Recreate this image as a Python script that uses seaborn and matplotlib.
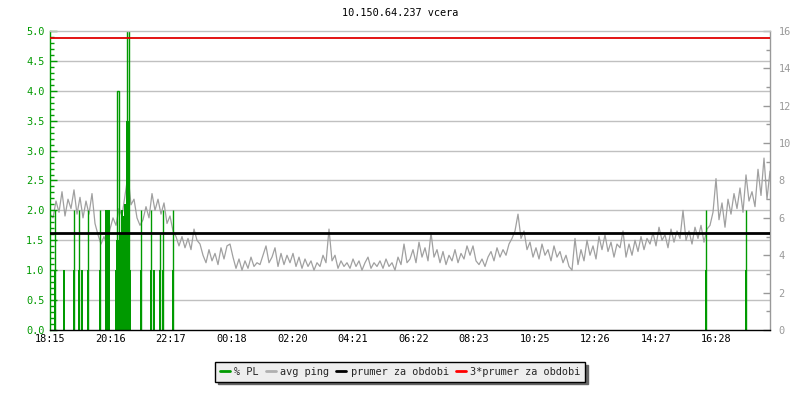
import numpy as np
import pandas as pd
import matplotlib
matplotlib.use("Agg")
import matplotlib.pyplot as plt
from matplotlib.lines import Line2D
from matplotlib.ticker import MultipleLocator, FixedLocator
import seaborn as sns

# ---------------- data ----------------
title = "10.150.64.237 vcera"
tick_labels = ["18:15", "20:16", "22:17", "00:18", "02:20", "04:21",
               "06:22", "08:23", "10:25", "12:26", "14:27", "16:28"]

# avg ping [ms], one sample every 6 minutes starting 18:15
avg_ping = [
    6.2, 6.0, 6.9, 6.3, 7.4, 6.1, 7.0, 6.5, 7.5, 6.2,
    7.1, 6.0, 6.9, 6.2, 7.3, 5.7, 5.1, 4.6, 5.0, 4.5,
    5.4, 6.0, 5.6, 6.5, 6.1, 7.2, 8.3, 6.7, 7.0, 6.0,
    5.6, 5.9, 6.6, 6.0, 7.3, 6.4, 7.0, 6.2, 6.8, 5.7,
    6.1, 5.3, 5.0, 4.5, 5.0, 4.4, 4.9, 4.3, 5.4, 4.8,
    4.6, 4.0, 3.6, 4.3, 3.7, 4.1, 3.5, 4.4, 3.8, 4.5,
    4.6, 3.9, 3.3, 3.8, 3.2, 3.7, 3.3, 3.9, 3.4, 3.6,
    3.5, 4.0, 4.5, 3.6, 3.9, 4.4, 3.4, 4.1, 3.5, 4.0,
    3.6, 4.1, 3.4, 3.9, 3.3, 3.8, 3.4, 3.7, 3.2, 3.6,
    3.4, 4.0, 3.6, 5.4, 3.7, 4.0, 3.3, 3.7, 3.4, 3.6,
    3.3, 3.8, 3.4, 3.7, 3.2, 3.6, 3.9, 3.3, 3.6, 3.4,
    3.7, 3.3, 3.8, 3.4, 3.6, 3.2, 3.9, 3.5, 4.6, 3.6,
    3.8, 4.3, 3.6, 4.7, 3.9, 4.4, 3.7, 5.2, 3.9, 4.3,
    3.6, 4.2, 3.5, 4.0, 3.7, 4.3, 3.6, 4.1, 3.8, 4.5,
    4.0, 4.5, 3.7, 3.5, 3.8, 3.4, 3.9, 4.2, 3.7, 4.4,
    3.9, 4.3, 4.0, 4.6, 4.9, 5.3, 6.2, 4.9, 5.3, 4.3,
    4.7, 3.9, 4.4, 3.8, 4.6, 4.0, 4.3, 3.7, 4.5, 3.9,
    4.2, 3.6, 4.0, 3.4, 3.2, 4.9, 3.5, 4.3, 3.7, 4.8,
    4.0, 4.5, 3.8, 5.0, 4.3, 5.1, 4.2, 4.7, 3.9, 4.6,
    4.4, 5.3, 3.9, 4.6, 4.0, 4.8, 4.2, 5.0, 4.3, 4.9,
    4.6, 5.2, 4.5, 5.5, 4.8, 5.1, 4.4, 5.4, 4.7, 5.3,
    4.9, 6.4, 4.8, 5.3, 4.6, 5.5, 4.9, 5.6, 4.7, 5.4,
    5.6, 6.3, 8.1, 5.9, 6.8, 5.5, 7.0, 6.2, 7.3, 6.5,
    7.6, 6.3, 8.3, 6.9, 7.4, 6.6, 8.6, 7.2, 9.2, 7.0,
    8.5,
]
ping_step_min = 6

# packet loss [%]: filled part
pl_time = [10, 28, 48, 58, 64, 76, 100, 112, 114, 116, 118,
           132, 134, 136, 138, 140, 142, 144, 146, 148, 150, 152, 154, 156, 158, 160,
           182, 202, 208, 220, 226, 246, 1312, 1392]
pl_value = [1.0, 1.0, 1.0, 1.0, 1.0, 1.0, 1.0, 2.0, 2.0, 2.0, 2.0,
            1.0, 1.5, 1.0, 1.5, 1.6, 1.0, 2.0, 1.9, 1.9, 2.1, 2.0, 3.5, 3.5, 3.5, 1.0,
            1.0, 1.0, 1.0, 1.0, 1.0, 1.0, 1.0, 1.0]
# packet loss peaks (thin lines)
pl_peak_time = [10, 48, 58, 76, 100, 182, 202, 220, 226, 246, 1312, 1392]
pl_peak_value = [2.0, 2.0, 2.0, 2.0, 2.0, 2.0, 2.0, 1.6, 2.0, 2.0, 2.0, 2.0]
# packet loss spikes (hollow)
pl_spike_time = [135, 156]
pl_spike_value = [4.0, 5.5]

prumer = 5.2          # ms
prumer3 = 15.6        # ms

# ---------------- style ----------------
GREEN = "#009a00"
GRAY = "#a0a0a0"
AXGRAY = "#999999"
GRID = "#c0c0c0"
FS = 7.4

sns.set_style("white")
plt.rcParams["font.family"] = ["DejaVu Sans Mono", "DejaVu Sans"]

fig = plt.figure(figsize=(8, 4), dpi=100)
ax = fig.add_axes([50 / 800, 70 / 400, 720 / 800, 299 / 400])
ax2 = ax.twinx()
ax3 = ax.twinx()
ax2.set_zorder(1)
ax.set_zorder(2)
ax3.set_zorder(3)
ax.patch.set_visible(False)
ax3.patch.set_visible(False)
ax2.patch.set_visible(True)
ax2.patch.set_facecolor("white")

total_min = 1440
ax.set_xlim(0, total_min)

# ping (right axis)
ping_df = pd.DataFrame({"t": np.arange(len(avg_ping)) * ping_step_min, "ping": avg_ping})
ax2.set_ylim(0, 16)
for g in np.arange(1, 10) * 1.6:
    ax2.axhline(g, color=GRID, lw=1.0, zorder=0)
sns.lineplot(data=ping_df, x="t", y="ping", ax=ax2, color=GRAY, lw=0.9, zorder=2)
ax2.set_xlabel("")
ax2.set_ylabel("")
ax2.yaxis.set_major_locator(MultipleLocator(2))
ax2.yaxis.set_minor_locator(MultipleLocator(1))
ax2.tick_params(axis="y", which="major", direction="in", length=5, width=1,
                color=AXGRAY, labelcolor=AXGRAY, labelsize=FS, pad=6)
ax2.tick_params(axis="y", which="minor", direction="in", length=3, width=1, color=AXGRAY)
for s in ["left", "top", "bottom"]:
    ax2.spines[s].set_visible(False)
ax2.spines["right"].set_color(AXGRAY)
ax2.spines["right"].set_linewidth(1)

# packet loss (left axis)
ax.set_ylim(0, 5)
ax.bar(pl_time, pl_value, width=3.8, color=GREEN, linewidth=0, align="center")
ax.vlines(pl_peak_time, 0, pl_peak_value, color=GREEN, lw=1.0)
ax.bar(pl_spike_time, pl_spike_value, width=4, fill=False, edgecolor=GREEN, linewidth=1.0)
ax.yaxis.set_major_locator(MultipleLocator(0.5))
ax.yaxis.set_minor_locator(MultipleLocator(0.1))
ax.yaxis.set_major_formatter(matplotlib.ticker.FormatStrFormatter("%.1f"))
ax.tick_params(axis="y", which="major", direction="in", length=5, width=1,
               color=GREEN, labelcolor=GREEN, labelsize=FS, pad=4)
ax.tick_params(axis="y", which="minor", direction="in", length=3, width=1, color=GREEN)
ax.tick_params(axis="y", right=False)

def to_min(s):
    h, m = map(int, s.split(":"))
    return ((h * 60 + m) - (18 * 60 + 15)) % 1440

ax.xaxis.set_major_locator(FixedLocator([to_min(s) for s in tick_labels]))
ax.set_xticklabels(tick_labels)
ax.tick_params(axis="x", which="major", direction="in", length=5, width=1,
               color="black", labelcolor="black", labelsize=FS, pad=3)
ax.spines["left"].set_color(GREEN)
ax.spines["left"].set_linewidth(1)
ax.spines["bottom"].set_color("black")
ax.spines["bottom"].set_linewidth(1)
ax.spines["top"].set_color(GRID)
ax.spines["top"].set_linewidth(1)
ax.spines["right"].set_visible(False)

# average lines (ms scale)
ax3.set_ylim(0, 16)
ax3.axhline(prumer, color="black", lw=2.0)
ax3.axhline(prumer3, color="#e00000", lw=1.3)
ax3.set_yticks([])
for s in ax3.spines.values():
    s.set_visible(False)

fig.text(0.5, 1 - 13 / 400, title, ha="center", va="center", fontsize=FS, color="black")

handles = [Line2D([], [], color=GREEN, lw=2),
           Line2D([], [], color="#b0b0b0", lw=2),
           Line2D([], [], color="black", lw=2),
           Line2D([], [], color="red", lw=2)]
labels = ["% PL", "avg ping", "prumer za obdobi", "3*prumer za obdobi"]
leg = fig.legend(handles, labels, loc="center", bbox_to_anchor=(0.5, 1 - 372 / 400),
                 ncol=4, frameon=True, fancybox=False,
                 shadow={"color": "#666666", "alpha": 1.0},
                 edgecolor="black", facecolor="#eeeeee", framealpha=1,
                 fontsize=FS, handlelength=1.0, handletextpad=0.4,
                 columnspacing=0.7, borderpad=0.45)
leg.get_frame().set_linewidth(1)

fig.savefig("out.png", dpi=100, facecolor="white")
